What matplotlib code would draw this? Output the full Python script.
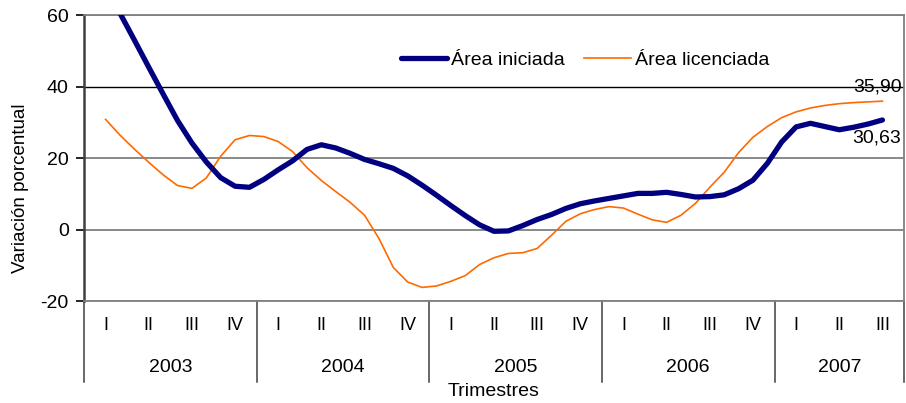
import matplotlib
matplotlib.use("Agg")
import matplotlib.pyplot as plt
import numpy as np

plt.rcParams['font.family'] = ['Liberation Sans', 'DejaVu Sans']

years = ['2003', '2004', '2005', '2006', '2007']
quarters_per_year = [4, 4, 4, 4, 3]
quarter_names = ['I', 'II', 'III', 'IV']

# Monthly readings, from the middle of Q-I 2003 to the middle of Q-III 2007
area_iniciada = [68.0, 60.5, 53.0, 45.4, 37.9, 30.5, 24.2, 18.9, 14.5, 12.1,
                 11.8, 14.0, 16.7, 19.2, 22.4, 23.7, 22.8, 21.3, 19.6, 18.4,
                 17.1, 15.0, 12.4, 9.6, 6.7, 3.9, 1.3, -0.5, -0.4, 1.1,
                 2.8, 4.2, 5.9, 7.2, 8.0, 8.7, 9.4, 10.1, 10.1, 10.4,
                 9.8, 9.1, 9.2, 9.7, 11.4, 13.8, 18.5, 24.5, 28.7, 29.7,
                 28.8, 27.9, 28.6, 29.5, 30.63]
area_licenciada = [30.8, 26.4, 22.5, 18.8, 15.3, 12.3, 11.5, 14.4, 20.5, 25.1,
                   26.3, 26.0, 24.6, 21.8, 17.3, 13.7, 10.6, 7.6, 4.0, -2.5,
                   -10.6, -14.7, -16.2, -15.8, -14.5, -12.9, -9.8, -7.9, -6.7, -6.5,
                   -5.3, -1.6, 2.3, 4.4, 5.6, 6.4, 6.0, 4.3, 2.7, 2.0,
                   4.0, 7.3, 11.8, 16.0, 21.5, 25.8, 28.8, 31.3, 32.9, 34.0,
                   34.7, 35.2, 35.5, 35.7, 35.90]
label_iniciada = '30,63'
label_licenciada = '35,90'

W, H = 906, 403
fig = plt.figure(figsize=(W / 100, H / 100), dpi=100)
L, R, T, B = 84, 904, 15, 301
ax = fig.add_axes([L / W, 1 - B / H, (R - L) / W, (B - T) / H])

x = np.arange(len(area_iniciada)) / 3.0
n_q = sum(quarters_per_year)

for yv in [-20, 0, 20, 60]:
    ax.axhline(yv, color='#808080', lw=1.3, zorder=1)
ax.axhline(40, color='#000000', lw=1.0, zorder=1)

l1, = ax.plot(x, area_iniciada, color='#000080', lw=3.8, solid_capstyle='round',
              solid_joinstyle='round', label='Área iniciada', zorder=3)
l2, = ax.plot(x, area_licenciada, color='#FF6A00', lw=1.2, label='Área licenciada', zorder=2)

ax.set_xlim(-0.5, n_q - 0.5)
ax.set_ylim(-20, 60)
ax.set_yticks([-20, 0, 20, 40, 60])
ax.set_yticklabels(['-20', '0', '20', '40', '60'])
ax.tick_params(axis='y', labelsize=14, length=6, width=1.2, pad=5, colors='#000000')
ax.set_xticks([])
for s in ['top', 'right', 'bottom']:
    ax.spines[s].set_color('#808080')
    ax.spines[s].set_linewidth(1.3)
ax.spines['left'].set_color('#404040')
ax.spines['left'].set_linewidth(1.8)

ax.annotate(label_licenciada, (x[-1], area_licenciada[-1]), xytext=(19, 14),
            textcoords='offset pixels', ha='right', va='center', fontsize=14)
ax.annotate(label_iniciada, (x[-1], area_iniciada[-1]), xytext=(19, -18),
            textcoords='offset pixels', ha='right', va='center', fontsize=14)

# Two-level category axis
trans = ax.get_xaxis_transform()
ph = B - T
y_q = -(326 - B) / ph
y_y = -(368 - B) / ph
y_sep = -(382 - B) / ph
q = 0
bounds = [-0.5]
for yr, nq in zip(years, quarters_per_year):
    for k in range(nq):
        ax.text(q + k, y_q, quarter_names[k], transform=trans, ha='center', va='center',
                fontsize=13, clip_on=False)
    ax.text(q + (nq - 1) / 2.0, y_y, yr, transform=trans, ha='center', va='center',
            fontsize=14, clip_on=False)
    q += nq
    bounds.append(q - 0.5)
for bx in bounds:
    ax.plot([bx, bx], [0, y_sep], transform=trans, color='#404040', lw=1.1, clip_on=False)

ax.text(0.5, -(392 - B) / ph, 'Trimestres', transform=ax.transAxes, ha='center',
        va='center', fontsize=14)
fig.text(20.5 / W, 1 - 188 / H, 'Variación porcentual', rotation=90, ha='center',
         va='center', fontsize=13.5)

fig.legend(handles=[l1, l2], loc='center', bbox_to_anchor=(585 / W, 1 - 60 / H),
           ncol=2, frameon=False, fontsize=14, handlelength=2.4, handletextpad=0.2,
           columnspacing=1.0)

fig.savefig('out.png', dpi=100)
